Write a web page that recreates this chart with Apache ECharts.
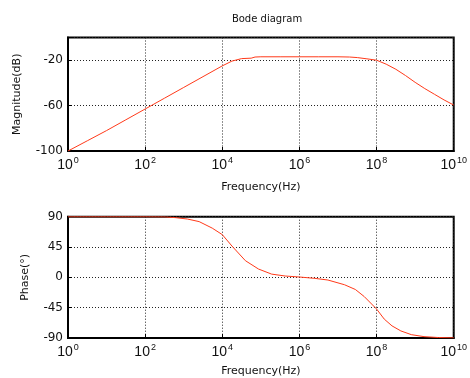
<!DOCTYPE html>
<html>
<head>
<meta charset="utf-8">
<script src="https://cdn.jsdelivr.net/npm/echarts@6/dist/echarts.min.js"></script>
<style>html,body{margin:0;padding:0;background:#fff}#c{width:470px;height:378px}</style>
</head>
<body>
<div id="c"></div>
<script>
// log10 of frequency (Hz) and magnitude (dB)
var magLogF = [0, 0.5, 1, 1.5, 2, 2.5, 3, 3.5, 4, 4.25, 4.5, 4.75, 4.85, 5, 5.5, 6, 6.5, 7, 7.3, 7.5, 7.75, 8, 8.25, 8.5, 8.75, 9, 9.25, 9.5, 9.75, 10];
var magDb   = [-100, -91, -82, -72.5, -63, -53.5, -44, -34.5, -25, -20.8, -18.6, -18.2, -17.2, -17, -17, -17, -17, -17, -17.2, -17.7, -18.8, -20, -23.5, -28, -33.5, -39.5, -45, -50, -55, -59.5];
// log10 of frequency (Hz) and phase (deg)
var phLogF = [0, 1, 2, 2.5, 2.79, 3.1, 3.4, 3.74, 4, 4.25, 4.6, 4.94, 5.28, 5.63, 6, 6.4, 6.74, 7.17, 7.45, 7.68, 8, 8.2, 8.4, 8.63, 8.9, 9.23, 9.6, 10];
var phDeg  = [90, 90, 90, 89.8, 88.6, 86.5, 82.7, 73, 63.4, 46.5, 24.7, 12.3, 4.8, 2, 0.5, -1.5, -4, -11, -18, -28.5, -47, -62, -72, -79.5, -85, -88, -89.3, -89.8];
var title = 'Bode diagram';
var xName = 'Frequency(Hz)';
var magName = 'Magnitude(dB)';
var phName = 'Phase(°)';

function pairs(lf, v) { return lf.map(function (e, i) { return [Math.pow(10, e), v[i]]; }); }

var chart = echarts.init(document.getElementById('c'), null, {renderer: 'canvas'});
var txt = '#111';
var sans = 'DejaVu Sans';
function xAxis(gi, gap) {
  return {
    type: 'log', gridIndex: gi, logBase: 10, min: 1, max: 1e10, interval: 2,
    name: xName, nameLocation: 'middle', nameGap: gap,
    nameTextStyle: {color: txt, fontFamily: sans, fontSize: 11},
    axisLine: {show: true, onZero: false, lineStyle: {color: '#000', width: 2}},
    axisTick: {show: true, inside: true, length: 4, lineStyle: {color: '#000'}},
    minorTick: {show: false},
    splitLine: {show: true, lineStyle: {color: '#222', width: 1, type: [1, 2]}},
    axisLabel: {
      margin: 5,
      formatter: function (v) { return '{b|10}{s|' + Math.round(Math.log10(v)) + '}'; },
      rich: {
        b: {fontFamily: 'Liberation Sans', fontSize: 14, color: txt, lineHeight: 16, verticalAlign: 'bottom'},
        s: {fontFamily: 'Liberation Sans', fontSize: 9, color: txt, lineHeight: 16, verticalAlign: 'top', padding: [0, 0, 0, 1]}
      }
    }
  };
}
function yAxis(gi, min, max, interval, name, gap) {
  return {
    type: 'value', gridIndex: gi, min: min, max: max, interval: interval,
    name: name, nameLocation: 'middle', nameGap: gap,
    nameTextStyle: {color: txt, fontFamily: sans, fontSize: 11},
    axisLine: {show: true, onZero: false, lineStyle: {color: '#000', width: 2}},
    axisTick: {show: true, inside: true, length: 4, lineStyle: {color: '#000'}},
    splitLine: {show: true, lineStyle: {color: '#222', width: 1, type: [1, 2]}},
    axisLabel: {
      margin: 5, color: txt, fontFamily: sans, fontSize: 12,
      formatter: function (v) { return (gi === 0 && v === 0) ? '' : String(v); }
    }
  };
}
chart.setOption({
  animation: false,
  backgroundColor: '#fff',
  title: {text: title, left: 262, top: 9, textAlign: 'center',
    textStyle: {fontFamily: sans, fontSize: 10, fontWeight: 'normal', color: txt}},
  grid: [
    {left: 68, top: 37.5, width: 389, height: 113.5, show: true, borderColor: '#000', borderWidth: 2, backgroundColor: 'transparent'},
    {left: 68, top: 216.7, width: 389, height: 124, show: true, borderColor: '#000', borderWidth: 2, backgroundColor: 'transparent'}
  ],
  xAxis: [xAxis(0, 31), xAxis(1, 28)],
  yAxis: [yAxis(0, -100, 0, 40, magName, 45), yAxis(1, -90, 90, 45, phName, 37)],
  series: [
    {type: 'line', xAxisIndex: 0, yAxisIndex: 0, data: pairs(magLogF, magDb), showSymbol: false,
      lineStyle: {color: '#ff3a1a', width: 1}, z: 5},
    {type: 'line', xAxisIndex: 1, yAxisIndex: 1, data: pairs(phLogF, phDeg), showSymbol: false,
      lineStyle: {color: '#ff3a1a', width: 1}, z: 5}
  ]
});
</script>
</body>
</html>
